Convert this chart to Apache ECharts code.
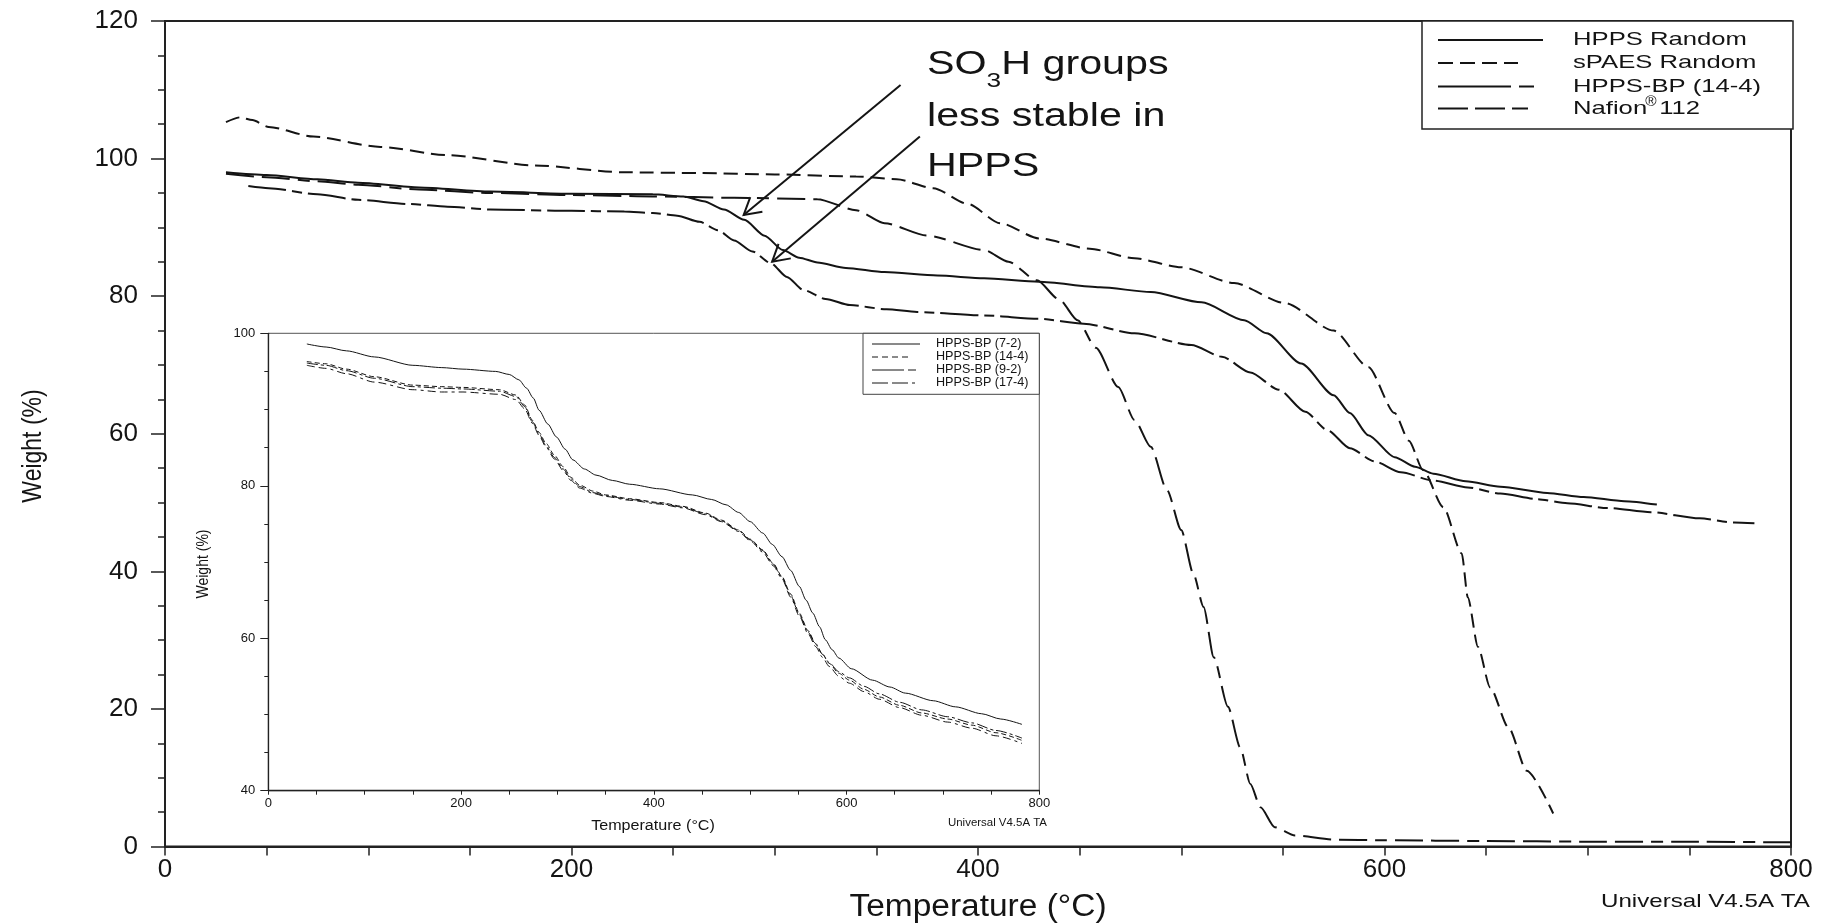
<!DOCTYPE html>
<html>
<head>
<meta charset="utf-8">
<script src="https://cdn.jsdelivr.net/npm/echarts@6.0.0/dist/echarts.min.js"></script>
<style>
html,body{margin:0;padding:0;background:#fff;}
#c{width:1826px;height:923px;}
</style>
</head>
<body>
<div id="c"></div>
<script>
// ---------------- DATA (temperature °C, weight %) ----------------
const hppsRandom = [[30,98.0],[50,97.6],[75,97.0],[95,96.5],[125,95.8],[160,95.2],[200,94.9],[240,94.8],[255,94.5],[265,93.8],[275,92.6],[285,91.1],[295,88.8],[304,86.7],[312,85.6],[321,84.9],[335,84.1],[354,83.5],[380,83.0],[403,82.6],[430,82.1],[460,81.3],[485,80.6],[510,79.1],[531,76.5],[542,74.6],[559,70.2],[575,65.6],[583,63.0],[592,59.8],[605,56.6],[615,55.2],[624,54.2],[640,53.1],[657,52.3],[680,51.4],[698,50.8],[718,50.2],[734,49.7]];
const spaesRandom = [[30,105.3],[37,106.0],[43,105.6],[51,104.6],[73,103.2],[106,101.7],[139,100.5],[182,99.0],[226,98.0],[263,97.9],[300,97.7],[340,97.4],[360,97.0],[378,95.7],[395,93.4],[411,90.6],[430,88.4],[455,86.9],[477,85.5],[500,84.2],[526,81.9],[551,79.0],[575,75.0],[592,69.7],[605,63.0],[612,59.0],[619,54.7],[629,49.3],[638,42.6],[641,36.2],[646,29.0],[652,23.1],[661,17.3],[670,11.0],[683,4.8]];
const hppsBP144 = [[41,96.0],[51,95.7],[75,94.8],[95,94.0],[120,93.4],[139,93.0],[160,92.6],[200,92.4],[226,92.3],[240,92.1],[252,91.7],[263,90.8],[272,89.6],[280,88.1],[289,86.5],[298,84.8],[306,82.8],[314,80.9],[325,79.6],[337,78.7],[355,78.1],[370,77.7],[403,77.2],[430,76.7],[452,76.0],[477,74.6],[505,72.9],[520,71.2],[534,68.9],[548,66.4],[561,63.2],[572,60.5],[583,57.9],[595,56.0],[608,54.4],[624,53.2],[641,52.2],[657,51.3],[675,50.5],[690,49.9],[710,49.2],[731,48.6],[755,47.7],[772,47.1],[782,47.0]];
const nafion112 = [[30,97.8],[50,97.3],[75,96.7],[95,96.2],[125,95.5],[160,95.0],[200,94.7],[240,94.5],[280,94.3],[321,94.1],[340,92.5],[354,90.6],[375,88.8],[403,86.7],[415,85.0],[429,82.3],[440,79.5],[449,76.5],[458,72.5],[469,66.8],[477,62.0],[485,58.1],[493,51.8],[500,46.0],[506,39.6],[511,34.8],[516,27.5],[523,20.3],[529,14.4],[534,9.1],[539,5.7],[546,2.8],[556,1.6],[575,1.0],[600,0.9],[650,0.8],[700,0.7],[750,0.7],[800,0.6]];

// inset
const bp72 = [[40,98.6],[60,98.2],[81,97.7],[110,96.9],[150,95.8],[180,95.5],[202,95.3],[236,95.0],[250,94.6],[260,93.9],[268,92.8],[275,91.5],[281,89.9],[290,88.1],[299,86.4],[308,84.8],[316,83.4],[328,82.2],[340,81.4],[357,80.7],[375,80.2],[406,79.6],[440,78.8],[460,78.2],[475,77.5],[488,76.5],[500,75.3],[513,73.8],[523,72.3],[533,70.7],[542,68.9],[551,66.8],[558,65.0],[565,63.3],[572,61.5],[578,59.8],[585,58.5],[592,57.4],[605,56.0],[627,54.5],[645,53.6],[661,52.8],[690,51.8],[713,51.0],[740,50.1],[760,49.4],[782,48.7]];
const bp144 = [[40,96.3],[60,96.0],[81,95.3],[110,94.3],[150,93.2],[180,93.0],[202,92.9],[240,92.6],[257,91.9],[266,90.6],[274,88.6],[281,87.0],[288,85.6],[297,84.0],[306,82.5],[314,81.1],[323,80.1],[337,79.3],[350,78.8],[375,78.3],[406,77.8],[430,77.3],[454,76.4],[470,75.5],[488,74.2],[500,73.0],[513,71.6],[524,69.8],[533,68.1],[542,65.8],[551,63.3],[560,61.0],[568,59.3],[575,57.9],[582,56.7],[592,55.4],[603,54.5],[618,53.3],[634,52.3],[655,51.2],[678,50.2],[705,49.4],[730,48.6],[755,47.6],[782,46.6]];
const bp92 = [[40,96.1],[60,95.8],[81,95.1],[110,94.1],[150,93.0],[180,92.8],[202,92.7],[240,92.4],[257,91.7],[266,90.4],[274,88.4],[281,86.8],[288,85.3],[297,83.7],[306,82.2],[314,80.9],[323,79.9],[337,79.1],[350,78.7],[375,78.2],[406,77.7],[430,77.2],[454,76.3],[470,75.4],[488,74.1],[500,72.9],[513,71.5],[524,69.7],[533,68.0],[542,65.6],[551,63.1],[560,60.8],[568,59.2],[575,57.9],[582,56.8],[592,55.6],[603,54.8],[618,53.7],[634,52.7],[655,51.6],[678,50.6],[705,49.7],[730,48.9],[755,47.9],[782,46.9]];
const bp174 = [[40,95.8],[60,95.4],[81,94.7],[110,93.6],[150,92.6],[180,92.3],[202,92.3],[240,92.0],[257,91.3],[266,90.1],[274,88.2],[281,86.6],[288,85.1],[297,83.5],[306,82.0],[314,80.7],[323,79.7],[337,79.0],[350,78.6],[375,78.1],[406,77.6],[430,77.1],[454,76.2],[470,75.3],[488,74.0],[500,72.8],[513,71.3],[524,69.5],[533,67.8],[542,65.4],[551,62.9],[560,60.6],[568,58.9],[575,57.5],[582,56.3],[592,55.0],[603,54.1],[618,53.0],[634,52.0],[655,50.9],[678,49.9],[705,49.0],[730,48.2],[755,47.2],[782,46.2]];

const mainNames = ['HPPS Random', 'sPAES Random', 'HPPS-BP (14-4)', 'Nafion®112'];
const insetNames = ['HPPS-BP (7-2)', 'HPPS-BP (14-4)', 'HPPS-BP (9-2)', 'HPPS-BP (17-4)'];
const mainXTicks = [0, 200, 400, 600, 800];
const mainYTicks = [0, 20, 40, 60, 80, 100, 120];
const insetYTicks = [40, 60, 80, 100];
// annotation arrows: [tail, tip] in data units of the main chart
const arrows = [
  {tail: [361.9, 110.7], tip: [284.7, 91.8]},
  {tail: [371.4, 103.2], tip: [298.7, 85.0]}
];
const noteLines = ['SO', '3', 'H groups', 'less stable in', 'HPPS'];

// ---------------- STYLE ----------------
const FONT = '"Liberation Sans", Arial, Helvetica, sans-serif';
const INK = '#141414';
const mainDash = ['solid', [14, 7], [38, 6, 10, 6], [28, 8, 28, 8, 12, 8]];
const insetDash = ['solid', [5, 3], [11, 3, 3, 3], [8, 4, 8, 4, 3, 4]];

const mctx = document.createElement('canvas').getContext('2d');
function tw(str, size) { mctx.font = size + 'px "Liberation Sans"'; return mctx.measureText(str).width; }

function txt(x, y, text, size, o) {
  o = o || {};
  const al = o.align || 'left', va = o.va || 'middle';
  return {
    type: 'text', x: x, y: y, z: 100,
    scaleX: o.sx || 1, scaleY: o.sy || 1, rotation: o.rot || 0,
    style: {
      text: text, fontSize: size, fontFamily: FONT, fill: o.color || INK,
      align: al, verticalAlign: va, textAlign: al, textVerticalAlign: va
    }
  };
}
function seg(x1, y1, x2, y2, w, dash) {
  return {type: 'line', z: 100, shape: {x1: x1, y1: y1, x2: x2, y2: y2},
    style: {stroke: INK, lineWidth: w, lineDash: dash === 'solid' ? null : dash}};
}

function axisX(gi, o) {
  return {
    gridIndex: gi, type: 'value', min: 0, max: 800, interval: 200,
    axisLine: {show: true, onZero: false, lineStyle: {color: '#222', width: o.lw}},
    axisTick: {show: true, inside: false, length: o.tick, lineStyle: {color: '#222', width: o.tw}},
    minorTick: {show: true, splitNumber: 4, length: o.minor, lineStyle: {color: '#222', width: o.tw}},
    splitLine: {show: false}, minorSplitLine: {show: false},
    axisLabel: {margin: o.margin, fontSize: o.fs, fontFamily: FONT, color: INK}
  };
}
function axisY(gi, min, max, o) {
  return {
    gridIndex: gi, type: 'value', min: min, max: max, interval: 20,
    axisLine: {show: true, onZero: false, lineStyle: {color: '#222', width: o.lw}},
    axisTick: {show: true, inside: false, length: o.tick, lineStyle: {color: '#222', width: o.tw}},
    minorTick: {show: true, splitNumber: 4, length: o.minor, lineStyle: {color: '#222', width: o.tw}},
    splitLine: {show: false}, minorSplitLine: {show: false},
    axisLabel: {margin: o.margin, fontSize: o.fs, fontFamily: FONT, color: INK}
  };
}
function line(name, data, gi, dash, width) {
  return {
    name: name, type: 'line', xAxisIndex: gi, yAxisIndex: gi, data: data,
    showSymbol: false, symbol: 'none', smooth: 0.25, smoothMonotone: 'x',
    lineStyle: {color: INK, width: width, type: dash},
    emphasis: {disabled: true}, silent: true, z: 5
  };
}

const chart = echarts.init(document.getElementById('c'), null, {renderer: 'canvas'});
const option = {
  animation: false,
  backgroundColor: '#ffffff',
  tooltip: {show: false},
  grid: [
    {left: 165, top: 21, width: 1626, height: 825.5, show: true, borderColor: '#222', borderWidth: 2,
     backgroundColor: 'transparent', containLabel: false, outerBoundsMode: 'none'},
    {left: 268.3, top: 333.3, width: 771, height: 457.4, show: true, borderColor: '#555', borderWidth: 1,
     backgroundColor: '#ffffff', containLabel: false, outerBoundsMode: 'none'}
  ],
  xAxis: [
    axisX(0, {lw: 2, tick: 9, minor: 9, tw: 1.5, margin: 10, fs: 26}),
    axisX(1, {lw: 1.3, tick: 4, minor: 4, tw: 1, margin: 6, fs: 13})
  ],
  yAxis: [
    axisY(0, 0, 120, {lw: 2, tick: 14, minor: 7, tw: 1.5, margin: 27, fs: 26}),
    axisY(1, 40, 100, {lw: 1.3, tick: 8, minor: 4, tw: 1, margin: 13, fs: 13})
  ],
  series: [
    line(mainNames[0], hppsRandom, 0, mainDash[0], 2),
    line(mainNames[1], spaesRandom, 0, mainDash[1], 2),
    line(mainNames[2], hppsBP144, 0, mainDash[2], 2),
    line(mainNames[3], nafion112, 0, mainDash[3], 2),
    line(insetNames[0], bp72, 1, insetDash[0], 1),
    line(insetNames[1], bp144, 1, insetDash[1], 1),
    line(insetNames[2], bp92, 1, insetDash[2], 1),
    line(insetNames[3], bp174, 1, insetDash[3], 1)
  ]
};
chart.setOption(option);

// ---------------- GRAPHIC (titles, legends, annotation) ----------------
const g = [];
// axis titles
g.push(txt(978, 907, 'Temperature (°C)', 31, {align: 'center', sx: 1.08}));
g.push(txt(33, 446, 'Weight (%)', 23, {align: 'center', rot: Math.PI / 2, sy: 1.2}));
g.push(txt(1601, 902, 'Universal V4.5A TA', 19, {sx: 1.27}));
// inset titles
g.push(txt(653, 826, 'Temperature (°C)', 14, {align: 'center', sx: 1.15}));
g.push(txt(204, 564, 'Weight (%)', 14, {align: 'center', rot: Math.PI / 2, sy: 1.15}));
g.push(txt(948, 823, 'Universal V4.5A TA', 11, {sx: 1.04}));

// main legend
g.push({type: 'rect', z: 99, shape: {x: 1422, y: 21, width: 371, height: 108},
  style: {fill: '#fff', stroke: '#222', lineWidth: 1.5}});
const lgY = [40, 63, 86.5, 108.5];
const lgEnd = [1543, 1518, 1535, 1528];
const LSX = 1.35, LFS = 19;
for (let i = 0; i < 4; i++) {
  g.push(seg(1438, lgY[i], lgEnd[i], lgY[i], 1.8, mainDash[i] === 'solid' ? 'solid' :
    (i === 1 ? [15, 7] : (i === 2 ? [73, 8, 15, 8] : [30, 7, 30, 7, 17, 7]))));
}
g.push(txt(1573, lgY[0], mainNames[0], LFS, {sx: LSX}));
g.push(txt(1573, lgY[1], mainNames[1], LFS, {sx: LSX}));
g.push(txt(1573, lgY[2], mainNames[2], LFS, {sx: LSX}));
(function () {
  const parts = mainNames[3].split('®');
  const w1 = tw(parts[0], LFS) * LSX;
  g.push(txt(1573, lgY[3], parts[0], LFS, {sx: LSX}));
  g.push(txt(1573 + w1 - 2, lgY[3] - 6, '®', 14, {sx: 1.1}));
  g.push(txt(1573 + w1 + 12, lgY[3], parts[1], LFS, {sx: LSX}));
})();

// inset legend
g.push({type: 'rect', z: 99, shape: {x: 863, y: 333.3, width: 176.3, height: 61},
  style: {fill: '#fff', stroke: '#444', lineWidth: 1}});
const ilY = [344, 357, 370, 383];
const ilEnd = [920, 910, 918, 915];
const ilDash = ['solid', [6, 4], [32, 4, 8, 4], [16, 4, 16, 4, 6, 4]];
for (let i = 0; i < 4; i++) {
  g.push(seg(872, ilY[i], ilEnd[i], ilY[i], 1, ilDash[i]));
  g.push(txt(936, ilY[i], insetNames[i], 12, {sx: 1.05}));
}

// annotation text
const NFS = 33, NSX = 1.25, NX = 927;
(function () {
  const wSO = tw(noteLines[0], NFS) * NSX;
  const w3 = tw(noteLines[1], 21) * NSX;
  g.push(txt(NX, 65, noteLines[0], NFS, {sx: NSX}));
  g.push(txt(NX + wSO, 81, noteLines[1], 21, {sx: NSX}));
  g.push(txt(NX + wSO + w3, 65, noteLines[2], NFS, {sx: NSX}));
  g.push(txt(NX, 117, noteLines[3], NFS, {sx: NSX}));
  g.push(txt(NX, 167, noteLines[4], NFS, {sx: NSX}));
})();

// arrows
arrows.forEach(function (a) {
  const p0 = chart.convertToPixel({gridIndex: 0}, a.tail);
  const p1 = chart.convertToPixel({gridIndex: 0}, a.tip);
  g.push(seg(p0[0], p0[1], p1[0], p1[1], 2, 'solid'));
  const dx = p0[0] - p1[0], dy = p0[1] - p1[1];
  const L = Math.sqrt(dx * dx + dy * dy), ux = dx / L, uy = dy / L;
  const th = Math.PI / 6, len = 19;
  const ax = p1[0] + len * (ux * Math.cos(th) - uy * Math.sin(th));
  const ay = p1[1] + len * (ux * Math.sin(th) + uy * Math.cos(th));
  const bx = p1[0] + len * (ux * Math.cos(-th) - uy * Math.sin(-th));
  const by = p1[1] + len * (ux * Math.sin(-th) + uy * Math.cos(-th));
  g.push({type: 'polyline', z: 100, shape: {points: [[ax, ay], [p1[0], p1[1]], [bx, by]]},
    style: {stroke: INK, lineWidth: 2, fill: null}});
});

chart.setOption({graphic: {elements: g}});
</script>
</body>
</html>
